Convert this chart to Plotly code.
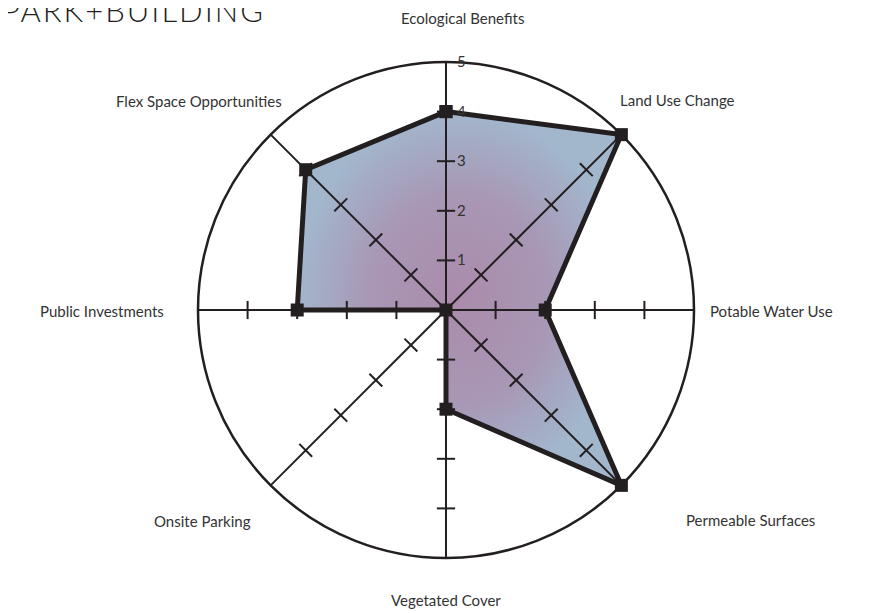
import numpy as np
import plotly.graph_objects as go

categories = ["Ecological Benefits", "Land Use Change", "Potable Water Use", "Permeable Surfaces",
              "Vegetated Cover", "Onsite Parking", "Public Investments", "Flex Space Opportunities"]
values = [4, 5, 2, 5, 2, 0, 3, 4]
tick_values = [1, 2, 3, 4]
radial_ticks = [1, 2, 3, 4, 5]

# page is drawn with the browser's 8px body margin, so work in screen px and shift
OFF = 8
W, H = 877 - OFF, 613 - OFF

# label centres in screen pixels (x, y from top)
label_pos = [(462, 18), (677, 100), (771, 311), (750, 520),
             (446, 600), (202, 521), (102, 311), (199, 101)]

cx, cy, R = 446 - OFF, 310 - OFF, 248
dom_x = [(cx - R) / W, (cx + R) / W]
dom_y = [(H - cy - R) / H, (H - cy + R) / H]
ink = "#231f20"

# bearing of each spoke, clockwise from the top
bearing = np.arange(len(categories)) * 360 / len(categories)
rad = np.deg2rad(bearing)
vx = np.array(values) * np.sin(rad)
vy = np.array(values) * np.cos(rad)

fig = go.Figure()

# gradient fill drawn on hidden cartesian axes underneath the polar plot
fig.add_trace(go.Scatter(
    x=list(vx) + [vx[0]], y=list(vy) + [vy[0]],
    mode="lines", line=dict(width=0), fill="toself",
    fillgradient=dict(type="radial", colorscale=[[0, "#ab8bab"], [0.55, "#a897b5"], [1, "#a2b6cc"]]),
    hoverinfo="skip", showlegend=False))

# small cross ticks on every spoke
tr, tt, ta = [], [], []
for k, c in enumerate(categories):
    for v in tick_values:
        tr.append(v)
        tt.append(c)
        ta.append(bearing[k] + 90)
fig.add_trace(go.Scatterpolar(
    r=tr, theta=tt, mode="markers",
    marker=dict(symbol="line-ns", size=13, angle=ta, line=dict(width=2, color=ink)),
    hoverinfo="skip", showlegend=False))

fig.add_trace(go.Scatterpolar(
    r=values + [values[0]], theta=categories + [categories[0]],
    mode="lines+markers",
    line=dict(color=ink, width=5),
    marker=dict(symbol="square", size=13, color=ink),
    showlegend=False))

# scale numbers beside the top spoke (same scale as the hidden cartesian axes)
for v in radial_ticks:
    fig.add_annotation(text=str(v), x=0, y=v, xref="x", yref="y",
                       xanchor="left", yanchor="middle", xshift=9, yshift=1,
                       showarrow=False,
                       font=dict(family="Lato", size=15, color="#333333"))

for c, (px_, py_) in zip(categories, label_pos):
    fig.add_annotation(text=c, x=(px_ - OFF) / W, y=1 - (py_ - OFF) / H,
                       xref="paper", yref="paper",
                       xanchor="center", yanchor="middle", showarrow=False,
                       font=dict(family="Lato", size=15, color="#333333"))

fig.add_annotation(text="<span style='letter-spacing:2px'>PARK+BUILDING</span>",
                   x=-8.5 / W, y=1 - 2 / H, xref="paper", yref="paper",
                   xanchor="left", yanchor="middle", showarrow=False,
                   font=dict(family="Lato", size=31, weight=300, color=ink))

fig.update_layout(
    width=W, height=H,
    margin=dict(l=0, r=0, t=0, b=0),
    paper_bgcolor="white", plot_bgcolor="rgba(0,0,0,0)",
    xaxis=dict(domain=dom_x, range=[-5, 5], visible=False, fixedrange=True),
    yaxis=dict(domain=dom_y, range=[-5, 5], visible=False, fixedrange=True),
    polar=dict(
        domain=dict(x=dom_x, y=dom_y),
        bgcolor="rgba(0,0,0,0)",
        angularaxis=dict(categoryorder="array", categoryarray=categories,
                         rotation=90, direction="clockwise",
                         showticklabels=False, ticks="",
                         showline=True, linecolor=ink, linewidth=2.5,
                         showgrid=True, gridcolor=ink, gridwidth=2),
        radialaxis=dict(range=[0, 5], angle=90, ticks="", showticklabels=False,
                        showline=False, showgrid=False),
    ),
)

fig.write_html("out.html")
